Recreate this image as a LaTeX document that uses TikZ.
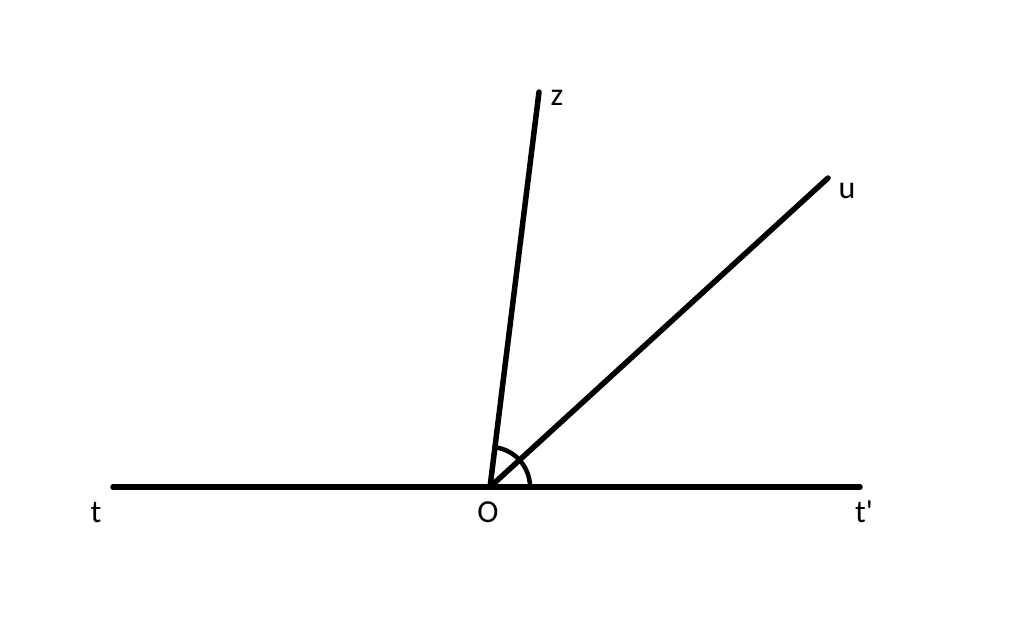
\documentclass[tikz,border=0pt]{standalone}
\usepackage{fontspec}
\setmainfont{Carlito}
\begin{document}
\begin{tikzpicture}[x=1pt,y=-1pt,
  ray/.style={line width=5.5pt,line cap=round},
  lbl/.style={font=\fontsize{32}{36}\selectfont,inner sep=0pt}]
\useasboundingbox (0,0) rectangle (1024,618);
\coordinate (O) at (490,487);
\coordinate (T) at (113,487);
\coordinate (Tp) at (860,487);
\coordinate (Z) at (539,92);
\coordinate (U) at (828,178);
\draw[ray] (T) -- (Tp);
\draw[ray] (O) -- (Z);
\draw[ray] (O) -- (U);
\draw[line width=4.5pt] ([shift={(-82.9:40)}]O) arc[start angle=-82.9,end angle=-42.4,radius=40];
\draw[line width=4.5pt] ([shift={(-42.4:40)}]O) arc[start angle=-42.4,end angle=0,radius=40];
\node[lbl] (lz) at (557,98) {z};
\node[lbl] (lu) at (847,191) {u};
\node[lbl] (lt) at (96,512) {t};
\node[lbl] (lo) at (488,512) {O};
\node[lbl] (ltp) at (864,512) {t\textquotesingle};
\end{tikzpicture}
\end{document}
